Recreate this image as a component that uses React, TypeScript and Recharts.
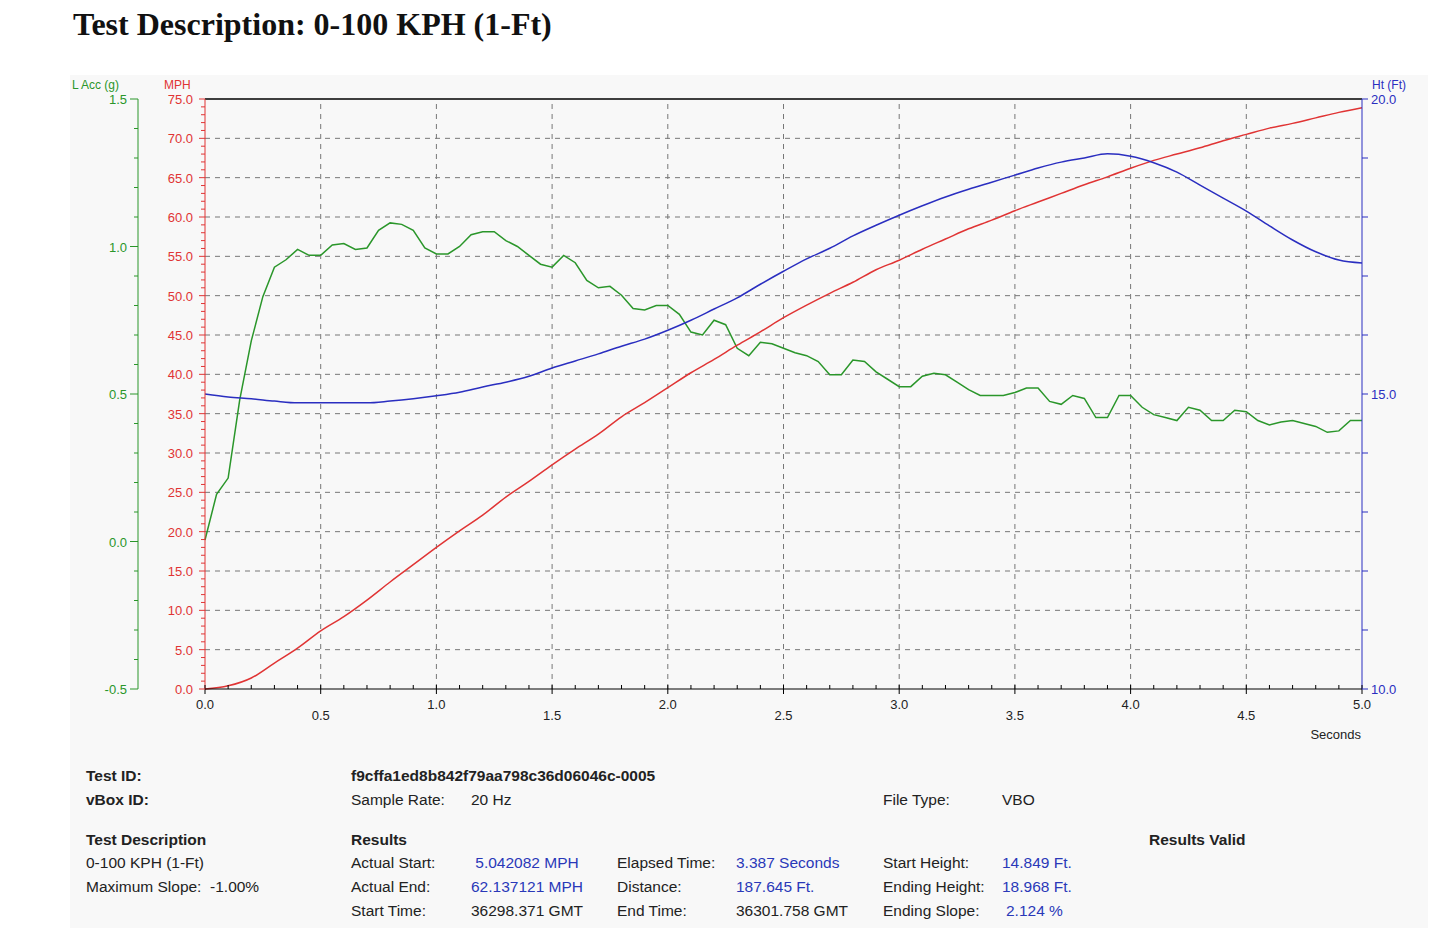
import React from "react";
import { ComposedChart, Line, XAxis, YAxis, ReferenceLine } from "recharts";

const accTimes = Array.from({ length: 101 }, (_, i) => +(i * 0.05).toFixed(2));
const accValues = [
  0.005, 0.16, 0.215, 0.48, 0.68, 0.83, 0.93, 0.955, 0.99, 0.97, 0.97, 1.005, 1.01, 0.99, 0.995, 1.055, 1.08, 1.075, 1.055, 0.995,
  0.975, 0.975, 1.0, 1.04, 1.05, 1.05, 1.02, 1.0, 0.97, 0.94, 0.93, 0.97, 0.945, 0.885, 0.86, 0.865, 0.835, 0.79, 0.785, 0.8,
  0.8, 0.77, 0.71, 0.7, 0.75, 0.735, 0.655, 0.63, 0.675, 0.67, 0.655, 0.64, 0.63, 0.61, 0.565, 0.565, 0.615, 0.61, 0.575, 0.55,
  0.525, 0.525, 0.56, 0.57, 0.565, 0.54, 0.515, 0.495, 0.495, 0.495, 0.505, 0.52, 0.52, 0.475, 0.465, 0.495, 0.485, 0.42, 0.42, 0.495,
  0.495, 0.455, 0.43, 0.42, 0.41, 0.455, 0.445, 0.41, 0.41, 0.445, 0.44, 0.41, 0.395, 0.405, 0.41, 0.4, 0.39, 0.37, 0.375, 0.41, 0.41,
];
const times = Array.from({ length: 51 }, (_, i) => +(i * 0.1).toFixed(1));
const mphValues = [
  0, 0.4, 1.4, 3.3, 5.2, 7.4, 9.2, 11.3, 13.6, 15.8, 18.0, 20.1, 22.1, 24.4, 26.4, 28.5, 30.5, 32.4, 34.6, 36.4,
  38.3, 40.2, 41.9, 43.7, 45.4, 47.2, 48.8, 50.3, 51.7, 53.3, 54.5, 55.9, 57.2, 58.5, 59.6, 60.8, 61.9, 63.0, 64.1, 65.1,
  66.2, 67.2, 68.0, 68.8, 69.7, 70.5, 71.3, 71.9, 72.6, 73.3, 73.9,
];
const htValues = [
  15.0, 14.95, 14.92, 14.88, 14.85, 14.85, 14.85, 14.85, 14.88, 14.92, 14.97, 15.03, 15.12, 15.2, 15.3, 15.44, 15.56, 15.68, 15.81, 15.93,
  16.08, 16.25, 16.44, 16.63, 16.86, 17.08, 17.29, 17.47, 17.68, 17.86, 18.03, 18.19, 18.34, 18.47, 18.59, 18.71, 18.83, 18.93, 19.0, 19.07,
  19.03, 18.92, 18.76, 18.54, 18.32, 18.1, 17.85, 17.61, 17.41, 17.27, 17.22,
];

const xTicks = Array.from({ length: 51 }, (_, i) => +(i * 0.1).toFixed(1));
const xMajor = [0, 0.5, 1, 1.5, 2, 2.5, 3, 3.5, 4, 4.5, 5];
const mphTicks = Array.from({ length: 76 }, (_, i) => i);
const mphGrid = [5, 10, 15, 20, 25, 30, 35, 40, 45, 50, 55, 60, 65, 70];
const accTicks = Array.from({ length: 21 }, (_, i) => +(-0.5 + i * 0.1).toFixed(1));
const htTicks = Array.from({ length: 11 }, (_, i) => 10 + i);

const accData = accTimes.map((t, i) => ({ t, v: accValues[i] }));
const mphData = times.map((t, i) => ({ t, v: mphValues[i] }));
const htData = times.map((t, i) => ({ t, v: htValues[i] }));

const GREEN = "#2a962a";
const RED = "#e03434";
const BLUE = "#2a2ec0";
const FONT = "'Liberation Sans', Arial, sans-serif";

const near = (v: number, step: number) => Math.abs(v / step - Math.round(v / step)) < 1e-6;

const MphTick = (p: any) => {
  const v = p.payload.value;
  const major = near(v, 5);
  return (
    <g>
      <line x1={p.x} x2={p.x - (major ? 6 : 4)} y1={p.y} y2={p.y} stroke={RED} />
      {major && (
        <text x={p.x - 12} y={p.y + 5} textAnchor="end" fontSize={13} fill={RED} fontFamily={FONT}>
          {v.toFixed(1)}
        </text>
      )}
    </g>
  );
};
const AccTick = (p: any) => {
  const v = p.payload.value;
  const major = near(v, 0.5);
  return (
    <g>
      <line x1={p.x} x2={p.x - (major ? 8 : 4)} y1={p.y} y2={p.y} stroke={GREEN} />
      {major && (
        <text x={p.x - 11} y={p.y + 5} textAnchor="end" fontSize={13} fill={GREEN} fontFamily={FONT}>
          {v.toFixed(1)}
        </text>
      )}
    </g>
  );
};
const HtTick = (p: any) => {
  const v = p.payload.value;
  const major = near(v, 5);
  return (
    <g>
      <line x1={p.x} x2={p.x + 6} y1={p.y} y2={p.y} stroke={BLUE} />
      {major && (
        <text x={p.x + 9} y={p.y + 5} textAnchor="start" fontSize={13} fill={BLUE} fontFamily={FONT}>
          {v.toFixed(1)}
        </text>
      )}
    </g>
  );
};
const XTick = (p: any) => {
  const v = p.payload.value;
  const major = near(v, 0.5);
  const whole = near(v, 1);
  return (
    <g>
      {major ? (
        <line x1={p.x} x2={p.x} y1={p.y - 4} y2={p.y + 5} stroke="#000" />
      ) : (
        <line x1={p.x} x2={p.x} y1={p.y} y2={p.y - 4} stroke="#000" />
      )}
      {major && (
        <text x={p.x} y={p.y + (whole ? 20 : 31)} textAnchor="middle" fontSize={13} fill="#222" fontFamily={FONT}>
          {v.toFixed(1)}
        </text>
      )}
    </g>
  );
};

const txt = (x: number, y: number, s: string, o: any = {}) => (
  <div
    key={x + "_" + y + s}
    style={{
      position: "absolute",
      left: x,
      top: y - 10,
      fontFamily: FONT,
      fontSize: 15.5,
      color: o.color || "#222",
      fontWeight: o.bold ? "bold" : "normal",
      whiteSpace: "pre",
    }}
  >
    {s}
  </div>
);

export default function App() {
  const blue = { color: "#2a38b8" };
  return (
    <div style={{ position: "absolute", left: 0, top: 0, width: 1430, height: 928, background: "#fff", overflow: "hidden" }}>
      <div style={{ position: "absolute", left: 70, top: 75, width: 1358, height: 853, background: "#f8f8f8" }} />
      <div
        style={{
          position: "absolute",
          left: 73,
          top: 6,
          fontFamily: "'Liberation Serif', 'Times New Roman', serif",
          fontWeight: "bold",
          fontSize: 32,
          color: "#111",
        }}
      >
        Test Description: 0-100 KPH (1-Ft)
      </div>
      <div style={{ position: "absolute", left: 0, top: 0 }}>
        <ComposedChart width={1430} height={760} margin={{ top: 99, right: 0, left: 70, bottom: 21 }}>
          <XAxis
            xAxisId="x"
            type="number"
            dataKey="t"
            domain={[0, 5]}
            ticks={xTicks}
            interval={0}
            tick={<XTick />}
            tickLine={false}
            tickSize={0}
            tickMargin={0}
            height={50}
            stroke="#000"
            allowDuplicatedCategory={false}
          />
          <YAxis
            yAxisId="a_mph"
            orientation="left"
            domain={[0, 75]}
            ticks={mphTicks}
            interval={0}
            width={67}
            tick={<MphTick />}
            tickLine={false}
            tickSize={0}
            tickMargin={0}
            stroke={RED}
          />
          <YAxis
            yAxisId="b_acc"
            orientation="left"
            domain={[-0.5, 1.5]}
            ticks={accTicks}
            interval={0}
            width={68}
            tick={<AccTick />}
            tickLine={false}
            tickSize={0}
            tickMargin={0}
            stroke={GREEN}
          />
          <YAxis
            yAxisId="ht"
            orientation="right"
            domain={[10, 20]}
            ticks={htTicks}
            interval={0}
            width={68}
            tick={<HtTick />}
            tickLine={false}
            tickSize={0}
            tickMargin={0}
            stroke={BLUE}
          />
          {mphGrid.map((g) => (
            <ReferenceLine key={"h" + g} xAxisId="x" yAxisId="a_mph" y={g} stroke="#777" strokeDasharray="5 5" />
          ))}
          {xMajor.slice(1, -1).map((g) => (
            <ReferenceLine key={"v" + g} xAxisId="x" yAxisId="a_mph" x={g} stroke="#777" strokeDasharray="5 5" />
          ))}
          <ReferenceLine xAxisId="x" yAxisId="a_mph" y={75} stroke="#000" strokeWidth={1.5} />
          <Line xAxisId="x" yAxisId="b_acc" data={accData} dataKey="v" type="linear" dot={false} stroke={GREEN} strokeWidth={1.5} isAnimationActive={false} />
          <Line xAxisId="x" yAxisId="a_mph" data={mphData} dataKey="v" type="monotone" dot={false} stroke={RED} strokeWidth={1.5} isAnimationActive={false} />
          <Line xAxisId="x" yAxisId="ht" data={htData} dataKey="v" type="monotone" dot={false} stroke={BLUE} strokeWidth={1.5} isAnimationActive={false} />
          <text x={72} y={89} fontSize={12} fill={GREEN} fontFamily={FONT}>L Acc (g)</text>
          <text x={164} y={89} fontSize={12} fill={RED} fontFamily={FONT}>MPH</text>
          <text x={1372} y={89} fontSize={12} fill={BLUE} fontFamily={FONT}>Ht (Ft)</text>
          <text x={1361} y={739} fontSize={13} fill="#222" textAnchor="end" fontFamily={FONT}>Seconds</text>
        </ComposedChart>
      </div>
      {txt(86, 777, "Test ID:", { bold: true })}
      {txt(86, 801, "vBox ID:", { bold: true })}
      {txt(351, 777, "f9cffa1ed8b842f79aa798c36d06046c-0005", { bold: true })}
      {txt(351, 801, "Sample Rate:")}
      {txt(471, 801, "20 Hz")}
      {txt(883, 801, "File Type:")}
      {txt(1002, 801, "VBO")}
      {txt(86, 841, "Test Description", { bold: true })}
      {txt(351, 841, "Results", { bold: true })}
      {txt(1149, 841, "Results Valid", { bold: true })}
      {txt(86, 864, "0-100 KPH (1-Ft)")}
      {txt(86, 888, "Maximum Slope:  -1.00%")}
      {txt(351, 864, "Actual Start:")}
      {txt(351, 888, "Actual End:")}
      {txt(351, 912, "Start Time:")}
      {txt(471, 864, " 5.042082 MPH", blue)}
      {txt(471, 888, "62.137121 MPH", blue)}
      {txt(471, 912, "36298.371 GMT")}
      {txt(617, 864, "Elapsed Time:")}
      {txt(617, 888, "Distance:")}
      {txt(617, 912, "End Time:")}
      {txt(736, 864, "3.387 Seconds", blue)}
      {txt(736, 888, "187.645 Ft.", blue)}
      {txt(736, 912, "36301.758 GMT")}
      {txt(883, 864, "Start Height:")}
      {txt(883, 888, "Ending Height:")}
      {txt(883, 912, "Ending Slope:")}
      {txt(1002, 864, "14.849 Ft.", blue)}
      {txt(1002, 888, "18.968 Ft.", blue)}
      {txt(1006, 912, "2.124 %", blue)}
    </div>
  );
}
